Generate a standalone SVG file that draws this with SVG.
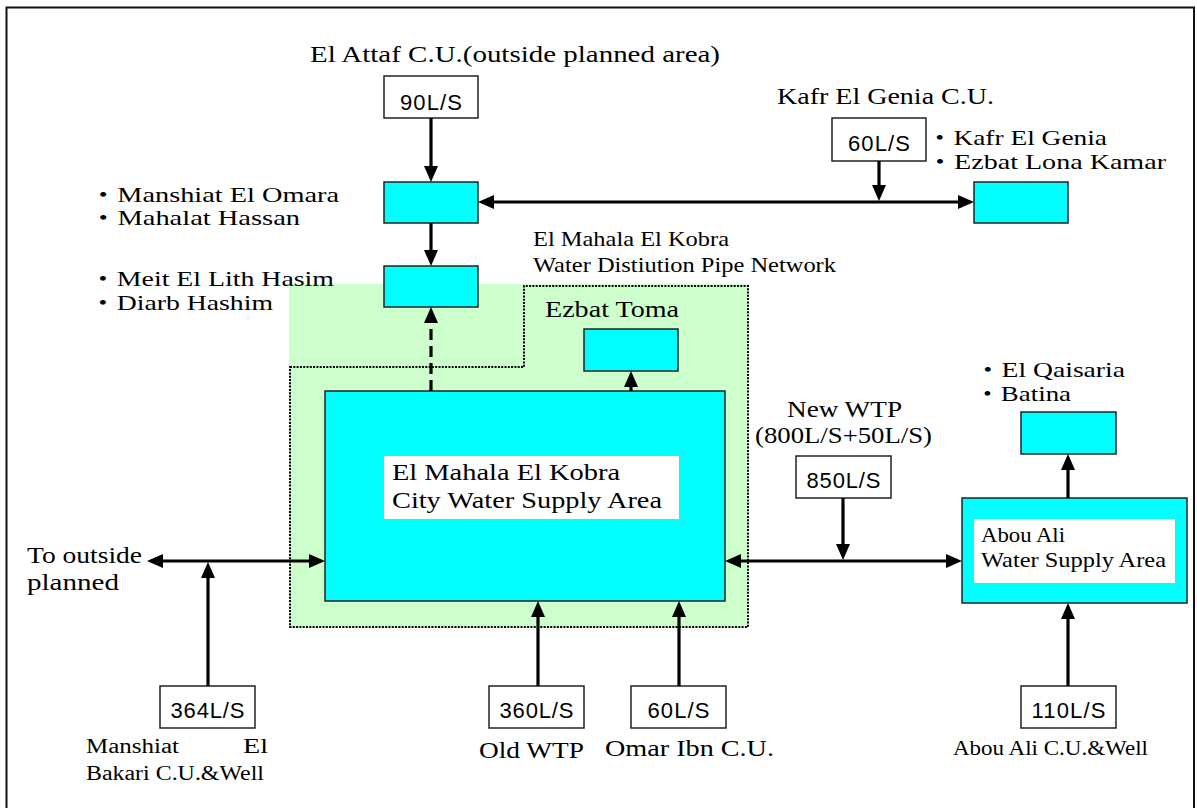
<svg xmlns="http://www.w3.org/2000/svg" width="1197" height="808" viewBox="0 0 1197 808">
<style>
.serif{font-family:"Liberation Serif","Noto Sans CJK JP",serif;font-size:24px;fill:#000}
.bl{font-size:22px}
.sm{font-size:21px}
.xs{font-size:20px}
.rate{font-family:"Liberation Sans",Arial,sans-serif;font-size:22px;fill:#000;text-anchor:middle}
.box{fill:#fff;stroke:#222;stroke-width:1.5}
.area{fill:#00ffff;stroke:#222;stroke-width:1.5}
.lbl{fill:#fff;stroke:none}
.conn line{stroke:#000;stroke-width:3.2;fill:none}
.dash{stroke-dasharray:11 6}
</style>
<defs>
<marker id="ah" viewBox="0 0 16 14" markerUnits="userSpaceOnUse" markerWidth="16" markerHeight="14" refX="12" refY="7" orient="auto-start-reverse">
<path d="M0,0 L16,7 L0,14 z" fill="#000"/>
</marker>
</defs>
<rect x="6.5" y="7.5" width="1187.5" height="810" fill="#fff" stroke="#111" stroke-width="2"/>

<g id="network-area">
<rect x="289" y="284" width="459" height="344" fill="#ccffcc"/>
<path d="M290,367 L524,367 L524,286 L748,286 L748,627 L290,627 Z" fill="none" stroke="#000" stroke-width="2" stroke-dasharray="2 1.3"/>
<text class="serif sm" x="533" y="246" textLength="196" lengthAdjust="spacingAndGlyphs">El Mahala El Kobra</text>
<text class="serif sm" x="533" y="272" textLength="303" lengthAdjust="spacingAndGlyphs">Water Distiution Pipe Network</text>
</g>

<g id="el-attaf">
<text class="serif" x="310" y="62" textLength="410" lengthAdjust="spacingAndGlyphs">El Attaf C.U.(outside planned area)</text>
<rect class="box" x="384" y="76" width="94" height="42"/>
<text class="rate" x="431" y="110" textLength="62" lengthAdjust="spacing">90L/S</text>
</g>

<g id="manshiat-omara">
<rect class="area" x="384" y="182" width="94" height="41"/>
<text class="serif bl" x="89" y="202" textLength="250" lengthAdjust="spacingAndGlyphs">・Manshiat El Omara</text>
<text class="serif bl" x="89" y="225" textLength="211" lengthAdjust="spacingAndGlyphs">・Mahalat Hassan</text>
</g>

<g id="meit-el-lith">
<rect class="area" x="384" y="266" width="94" height="41"/>
<text class="serif bl" x="89" y="286" textLength="245" lengthAdjust="spacingAndGlyphs">・Meit El Lith Hasim</text>
<text class="serif bl" x="89" y="310" textLength="184" lengthAdjust="spacingAndGlyphs">・Diarb Hashim</text>
</g>

<g id="kafr-el-genia-cu">
<text class="serif" x="777" y="104" textLength="217" lengthAdjust="spacingAndGlyphs">Kafr El Genia C.U.</text>
<rect class="box" x="832" y="118" width="94" height="43"/>
<text class="rate" x="879" y="151" textLength="62" lengthAdjust="spacing">60L/S</text>
</g>

<g id="kafr-el-genia">
<rect class="area" x="974" y="182" width="94" height="41"/>
<text class="serif bl" x="926" y="145" textLength="181" lengthAdjust="spacingAndGlyphs">・Kafr El Genia</text>
<text class="serif bl" x="926" y="169" textLength="240" lengthAdjust="spacingAndGlyphs">・Ezbat Lona Kamar</text>
</g>

<g id="ezbat-toma">
<text class="serif" x="545" y="317" textLength="134" lengthAdjust="spacingAndGlyphs">Ezbat Toma</text>
<rect class="area" x="584" y="329" width="94" height="42"/>
</g>

<g id="city-area">
<rect class="area" x="325" y="391" width="400" height="210"/>
<rect class="lbl" x="384" y="456" width="295" height="63"/>
<text class="serif" x="392" y="480" textLength="228" lengthAdjust="spacingAndGlyphs">El Mahala El Kobra</text>
<text class="serif" x="392" y="508" textLength="270" lengthAdjust="spacingAndGlyphs">City Water Supply Area</text>
</g>

<g id="new-wtp">
<text class="serif" x="787" y="417" textLength="115" lengthAdjust="spacingAndGlyphs">New WTP</text>
<text class="serif" x="755" y="443" textLength="177" lengthAdjust="spacingAndGlyphs">(800L/S+50L/S)</text>
<rect class="box" x="796" y="456" width="95" height="42"/>
<text class="rate" x="843.5" y="488" textLength="74" lengthAdjust="spacing">850L/S</text>
</g>

<g id="el-qaisaria">
<text class="serif bl" x="974" y="377" textLength="151" lengthAdjust="spacingAndGlyphs">・El Qaisaria</text>
<text class="serif bl" x="974" y="401" textLength="97" lengthAdjust="spacingAndGlyphs">・Batina</text>
<rect class="area" x="1021" y="412" width="95" height="42"/>
</g>

<g id="abou-ali-area">
<rect class="area" x="962" y="498" width="225" height="105" stroke-width="2"/>
<rect class="lbl" x="974" y="519" width="201" height="64"/>
<text class="serif sm" x="981" y="542" textLength="84" lengthAdjust="spacingAndGlyphs">Abou Ali</text>
<text class="serif sm" x="981" y="567" textLength="185" lengthAdjust="spacingAndGlyphs">Water Supply Area</text>
</g>

<g id="to-outside">
<text class="serif" x="27" y="563" textLength="115" lengthAdjust="spacingAndGlyphs">To outside</text>
<text class="serif" x="27" y="590" textLength="92" lengthAdjust="spacingAndGlyphs">planned</text>
</g>

<g id="manshiat-bakari">
<rect class="box" x="160" y="686" width="95" height="42"/>
<text class="rate" x="207.5" y="718" textLength="74" lengthAdjust="spacing">364L/S</text>
<text class="serif xs" x="86" y="753" textLength="93" lengthAdjust="spacingAndGlyphs">Manshiat</text>
<text class="serif xs" x="243" y="753" textLength="25" lengthAdjust="spacingAndGlyphs">El</text>
<text class="serif xs" x="86" y="780" textLength="178" lengthAdjust="spacingAndGlyphs">Bakari C.U.&amp;Well</text>
</g>

<g id="old-wtp">
<rect class="box" x="489" y="686" width="95" height="42"/>
<text class="rate" x="536.5" y="718" textLength="74" lengthAdjust="spacing">360L/S</text>
<text class="serif" x="479" y="758" textLength="105" lengthAdjust="spacingAndGlyphs">Old WTP</text>
</g>

<g id="omar-ibn">
<rect class="box" x="631" y="686" width="95" height="42"/>
<text class="rate" x="678.5" y="718" textLength="62" lengthAdjust="spacing">60L/S</text>
<text class="serif" x="605" y="756" textLength="169" lengthAdjust="spacingAndGlyphs">Omar Ibn C.U.</text>
</g>

<g id="abou-ali-cu">
<rect class="box" x="1021" y="686" width="95" height="42"/>
<text class="rate" x="1068.5" y="718" textLength="74" lengthAdjust="spacing">110L/S</text>
<text class="serif xs" x="953" y="755" textLength="195" lengthAdjust="spacingAndGlyphs">Abou Ali C.U.&amp;Well</text>
</g>

<g id="connectors" class="conn">
<line x1="431" y1="118" x2="431" y2="178" marker-end="url(#ah)"/>
<line x1="431" y1="223" x2="431" y2="262" marker-end="url(#ah)"/>
<line x1="482" y1="202" x2="970" y2="202" marker-start="url(#ah)" marker-end="url(#ah)"/>
<line x1="879" y1="161" x2="879" y2="197" marker-end="url(#ah)"/>
<line class="dash" x1="431" y1="391" x2="431" y2="311" marker-end="url(#ah)"/>
<line x1="631" y1="391" x2="631" y2="375" marker-end="url(#ah)"/>
<line x1="151" y1="561" x2="321" y2="561" marker-start="url(#ah)" marker-end="url(#ah)"/>
<line x1="208" y1="686" x2="208" y2="566" marker-end="url(#ah)"/>
<line x1="538" y1="686" x2="538" y2="605" marker-end="url(#ah)"/>
<line x1="679" y1="686" x2="679" y2="605" marker-end="url(#ah)"/>
<line x1="1068" y1="686" x2="1068" y2="607" marker-end="url(#ah)"/>
<line x1="729" y1="561" x2="958" y2="561" marker-start="url(#ah)" marker-end="url(#ah)"/>
<line x1="843" y1="498" x2="843" y2="556" marker-end="url(#ah)"/>
<line x1="1068" y1="498" x2="1068" y2="458" marker-end="url(#ah)"/>
</g>
</svg>
